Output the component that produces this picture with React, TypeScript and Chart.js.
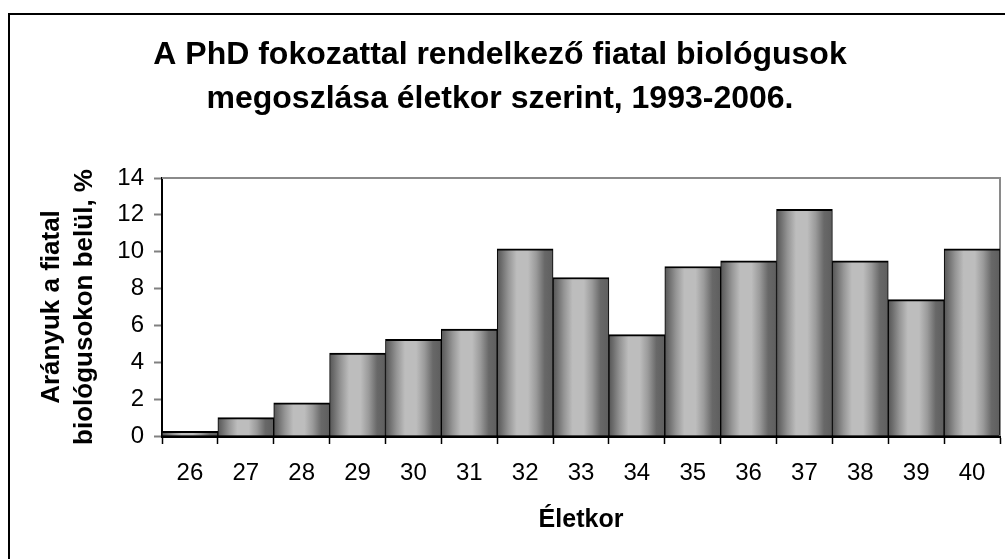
import React, { useEffect, useRef } from "react";
import { Chart, registerables } from "chart.js";

Chart.register(...registerables);

const TITLE_LINES = ["A PhD fokozattal rendelkező fiatal biológusok", "megoszlása életkor szerint, 1993-2006."];
const Y_TITLE_LINES = ["Arányuk a fiatal", "biológusokon belül, %"];
const X_TITLE = "Életkor";
const AGES = ["26", "27", "28", "29", "30", "31", "32", "33", "34", "35", "36", "37", "38", "39", "40"];
const SHARES = [0.25, 1.0, 1.8, 4.5, 5.25, 5.8, 10.15, 8.6, 5.5, 9.2, 9.5, 12.3, 9.5, 7.4, 10.15];
const Y_MIN = 0;
const Y_MAX = 14;
const Y_STEP = 2;

const FONT = "'Liberation Sans', Arial, sans-serif";

const BAR_STOPS: [number, string][] = [
  [0, "#565656"],
  [0.08, "#6e6e6e"],
  [0.2, "#959595"],
  [0.35, "#bdbdbd"],
  [0.55, "#bdbdbd"],
  [0.7, "#9a9a9a"],
  [0.85, "#686868"],
  [1, "#5e5e5e"],
];

let gradCache: { key: string; grad: CanvasGradient } | null = null;

function barGradient(chart: any) {
  const area = chart.chartArea;
  if (!area) return "#999999";
  const key = `${area.left}-${area.right}`;
  if (gradCache && gradCache.key === key) return gradCache.grad;
  const g = chart.ctx.createLinearGradient(area.left, 0, area.right, 0);
  const n = AGES.length;
  for (let i = 0; i < n; i++) {
    for (const [p, c] of BAR_STOPS) {
      g.addColorStop(Math.min(1, (i + p) / n), c);
    }
  }
  gradCache = { key, grad: g };
  return g;
}

const frameBorder = {
  id: "frameBorder",
  beforeDatasetsDraw(chart: any) {
    const { ctx, chartArea } = chart;
    ctx.save();
    ctx.strokeStyle = "#8a8a8a";
    ctx.lineWidth = 2;
    ctx.beginPath();
    ctx.moveTo(chartArea.left, chartArea.top);
    ctx.lineTo(chartArea.right, chartArea.top);
    ctx.lineTo(chartArea.right, chartArea.bottom);
    ctx.stroke();
    ctx.restore();
  },
};

export default function App() {
  const ref = useRef<HTMLCanvasElement | null>(null);

  useEffect(() => {
    if (!ref.current) return;
    gradCache = null;
    const chart = new Chart(ref.current, {
      type: "bar",
      data: {
        labels: AGES,
        datasets: [
          {
            data: SHARES,
            backgroundColor: (c: any) => barGradient(c.chart),
            borderColor: "#000000",
            borderWidth: { top: 2, left: 1, right: 1, bottom: 0 },
            borderSkipped: false,
            barPercentage: 1,
            categoryPercentage: 1,
          },
        ],
      },
      options: {
        animation: false,
        responsive: false,
        maintainAspectRatio: false,
        layout: { padding: { left: 0, right: 5, top: 0, bottom: 0 } },
        plugins: {
          legend: { display: false },
          tooltip: { enabled: false },
          title: {
            display: true,
            text: TITLE_LINES,
            color: "#000000",
            font: { family: FONT, size: 32, weight: "bold", lineHeight: 1.375 },
            padding: { top: 33, bottom: 57 },
          },
        },
        scales: {
          x: {
            type: "category",
            afterFit: (s: any) => {
              s.height = 123;
            },
            grid: {
              offset: true,
              drawOnChartArea: false,
              drawTicks: true,
              tickLength: 8,
              tickColor: "#000000",
              tickWidth: 1.5,
            },
            border: { display: true, color: "#000000", width: 3 },
            ticks: {
              color: "#000000",
              font: { family: FONT, size: 24 },
              padding: 15,
              maxRotation: 0,
              autoSkip: false,
            },
            title: {
              display: true,
              text: X_TITLE,
              color: "#000000",
              font: { family: FONT, size: 25, weight: "bold" },
              padding: { top: 0, bottom: 24 },
            },
          },
          y: {
            min: Y_MIN,
            max: Y_MAX,
            afterFit: (s: any) => {
              s.width = 162;
            },
            grid: {
              drawOnChartArea: false,
              drawTicks: true,
              tickLength: 8,
              tickColor: "#808080",
              tickWidth: 2,
            },
            border: { display: true, color: "#000000", width: 2 },
            ticks: {
              stepSize: Y_STEP,
              color: "#000000",
              font: { family: FONT, size: 24 },
              padding: 10,
            },
            title: {
              display: true,
              text: Y_TITLE_LINES,
              color: "#000000",
              font: { family: FONT, size: 26, weight: "bold", lineHeight: 1.27 },
              padding: { top: 35, bottom: 0 },
            },
          },
        },
      },
      plugins: [frameBorder],
    });
    return () => chart.destroy();
  }, []);

  return (
    <div
      style={{
        position: "fixed",
        left: 0,
        top: 0,
        width: 1005,
        height: 559,
        overflow: "hidden",
        background: "#ffffff",
      }}
    >
      <canvas ref={ref} width={1005} height={559} style={{ position: "absolute", left: 0, top: 0 }} />
      <div
        style={{
          position: "absolute",
          left: 8,
          top: 13,
          width: 1020,
          height: 580,
          border: "2px solid #000000",
          boxSizing: "border-box",
          pointerEvents: "none",
        }}
      />
    </div>
  );
}
